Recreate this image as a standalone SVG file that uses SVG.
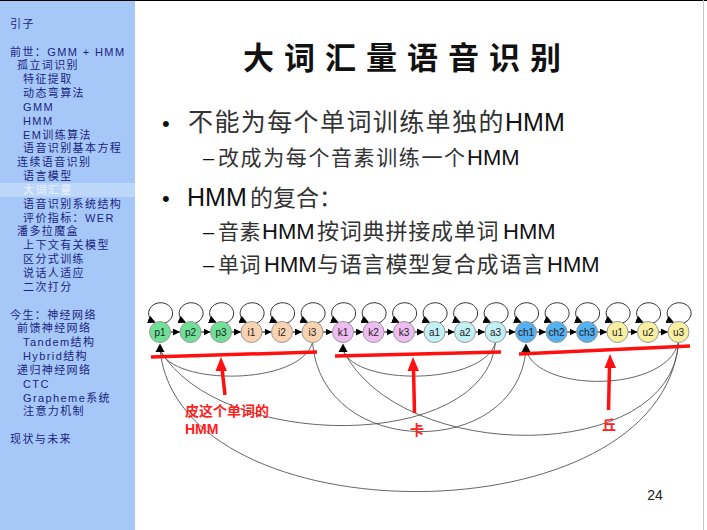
<svg xmlns="http://www.w3.org/2000/svg" width="707" height="530" viewBox="0 0 707 530">
<defs>
<marker id="ah" viewBox="0 0 10 10" refX="10" refY="5" markerWidth="7" markerHeight="7" markerUnits="userSpaceOnUse" orient="auto"><path d="M0,0 L10,5 L0,10 z" fill="#000"/></marker>
<marker id="ahl" viewBox="0 0 10 10" refX="9" refY="5" markerWidth="8" markerHeight="8" markerUnits="userSpaceOnUse" orient="auto"><path d="M0,0 L10,5 L0,10 z" fill="#000"/></marker>
<style>
.nav{font-family:"Liberation Sans","Noto Sans CJK SC",sans-serif;font-size:11px;letter-spacing:1.4px;fill:#1b2480}
.cj{font-family:"Noto Sans CJK SC",sans-serif;fill:#333}
.lat{font-family:"Liberation Sans",Arial,sans-serif;fill:#111}
.nd{stroke:#999;stroke-width:1}
.lbl{font-family:"Liberation Sans",Arial,sans-serif;font-size:10px;fill:#222;text-anchor:middle}
.lp{fill:none;stroke:#333;stroke-width:1;marker-end:url(#ahl)}
.tr{stroke:#000;stroke-width:1;marker-end:url(#ah)}
.arc{fill:none;stroke:#555;stroke-width:0.9}
.red{stroke:#ff1010;stroke-width:3.5;fill:none}
.rt{font-family:"Liberation Sans","Noto Sans CJK SC",sans-serif;font-size:14px;font-weight:bold;fill:#ff2020}
</style>
</defs>
<rect x="0" y="0" width="707" height="530" fill="#fff"/>
<rect x="0" y="0" width="135" height="530" fill="#a5c8f8"/>
<rect x="0" y="0" width="707" height="1" fill="#000"/>
<line x1="703.5" y1="0" x2="703.5" y2="530" stroke="#c8c8c8" stroke-width="1"/>
<g id="sidebar">
<rect x="0" y="183" width="135" height="14" fill="#bdd7fa"/>
<text class="nav" x="10" y="28">引子</text>
<text class="nav" x="10" y="56">前世：GMM + HMM</text>
<text class="nav" x="17" y="69">孤立词识别</text>
<text class="nav" x="23" y="83">特征提取</text>
<text class="nav" x="23" y="97">动态弯算法</text>
<text class="nav" x="23" y="111">GMM</text>
<text class="nav" x="23" y="125">HMM</text>
<text class="nav" x="23" y="139">EM训练算法</text>
<text class="nav" x="23" y="152">语音识别基本方程</text>
<text class="nav" x="17" y="166">连续语音识别</text>
<text class="nav" x="23" y="180">语言模型</text>
<text class="nav" x="23" y="194" style="fill:#eef3fb">大词汇量</text>
<text class="nav" x="23" y="208">语音识别系统结构</text>
<text class="nav" x="23" y="222">评价指标：WER</text>
<text class="nav" x="17" y="235">潘多拉魔盒</text>
<text class="nav" x="23" y="249">上下文有关模型</text>
<text class="nav" x="23" y="263">区分式训练</text>
<text class="nav" x="23" y="277">说话人适应</text>
<text class="nav" x="23" y="291">二次打分</text>
<text class="nav" x="10" y="319">今生：神经网络</text>
<text class="nav" x="17" y="332">前馈神经网络</text>
<text class="nav" x="23" y="346">Tandem结构</text>
<text class="nav" x="23" y="360">Hybrid结构</text>
<text class="nav" x="17" y="374">递归神经网络</text>
<text class="nav" x="23" y="388">CTC</text>
<text class="nav" x="23" y="402">Grapheme系统</text>
<text class="nav" x="23" y="415">注意力机制</text>
<text class="nav" x="10" y="443">现状与未来</text>
</g>
<g id="title">
<text x="243" y="69" font-family="Noto Sans CJK SC, sans-serif" font-size="31" font-weight="700" letter-spacing="10" fill="#111">大词汇量语音识别</text>
</g>
<g id="bullets">
<text class="lat" x="162" y="131" font-size="22">•</text>
<text class="cj" x="188" y="131" font-size="25" letter-spacing="1.4">不能为每个单词训练单独的</text>
<text class="lat" x="505" y="131" font-size="25">HMM</text>
<text class="lat" x="203" y="165" font-size="20" fill="#333">–</text>
<text class="cj" x="218" y="165" font-size="21" letter-spacing="1.6">改成为每个音素训练一个</text>
<text class="lat" x="467" y="165" font-size="22">HMM</text>
<text class="lat" x="162" y="206" font-size="22">•</text>
<text class="lat" x="187" y="206" font-size="25">HMM</text>
<text class="cj" x="250" y="206" font-size="23">的复合：</text>
<text class="lat" x="203" y="239" font-size="20" fill="#333">–</text>
<text class="cj" x="218" y="239" font-size="21" letter-spacing="0.5">音素</text>
<text class="lat" x="262" y="239" font-size="22">HMM</text>
<text class="cj" x="317" y="239" font-size="22" letter-spacing="0.8">按词典拼接成单词</text>
<text class="lat" x="503" y="239" font-size="22">HMM</text>
<text class="lat" x="203" y="272" font-size="20" fill="#333">–</text>
<text class="cj" x="218" y="272" font-size="21" letter-spacing="0.5">单词</text>
<text class="lat" x="264" y="272" font-size="22">HMM</text>
<text class="cj" x="317" y="272" font-size="22" letter-spacing="0.8">与语言模型复合成语言</text>
<text class="lat" x="547" y="272" font-size="22">HMM</text>
</g>
<g id="connectors">
<path class="lp" d="M165,323 A12,10.5 0 1 0 155,322.5"/>
<path class="lp" d="M195.5,323 A12,10.5 0 1 0 185.5,322.5"/>
<path class="lp" d="M226,323 A12,10.5 0 1 0 216,322.5"/>
<path class="lp" d="M256.5,323 A12,10.5 0 1 0 246.5,322.5"/>
<path class="lp" d="M287,323 A12,10.5 0 1 0 277,322.5"/>
<path class="lp" d="M317.5,323 A12,10.5 0 1 0 307.5,322.5"/>
<path class="lp" d="M348,323 A12,10.5 0 1 0 338,322.5"/>
<path class="lp" d="M378.5,323 A12,10.5 0 1 0 368.5,322.5"/>
<path class="lp" d="M409,323 A12,10.5 0 1 0 399,322.5"/>
<path class="lp" d="M439.5,323 A12,10.5 0 1 0 429.5,322.5"/>
<path class="lp" d="M470,323 A12,10.5 0 1 0 460,322.5"/>
<path class="lp" d="M500.5,323 A12,10.5 0 1 0 490.5,322.5"/>
<path class="lp" d="M531,323 A12,10.5 0 1 0 521,322.5"/>
<path class="lp" d="M561.5,323 A12,10.5 0 1 0 551.5,322.5"/>
<path class="lp" d="M592,323 A12,10.5 0 1 0 582,322.5"/>
<path class="lp" d="M622.5,323 A12,10.5 0 1 0 612.5,322.5"/>
<path class="lp" d="M653,323 A12,10.5 0 1 0 643,322.5"/>
<path class="lp" d="M683.5,323 A12,10.5 0 1 0 673.5,322.5"/>
<line class="tr" x1="170.5" y1="332" x2="180" y2="332"/>
<line class="tr" x1="201" y1="332" x2="210.5" y2="332"/>
<line class="tr" x1="231.5" y1="332" x2="241" y2="332"/>
<line class="tr" x1="262" y1="332" x2="271.5" y2="332"/>
<line class="tr" x1="292.5" y1="332" x2="302" y2="332"/>
<line class="tr" x1="323" y1="332" x2="332.5" y2="332"/>
<line class="tr" x1="353.5" y1="332" x2="363" y2="332"/>
<line class="tr" x1="384" y1="332" x2="393.5" y2="332"/>
<line class="tr" x1="414.5" y1="332" x2="424" y2="332"/>
<line class="tr" x1="445" y1="332" x2="454.5" y2="332"/>
<line class="tr" x1="475.5" y1="332" x2="485" y2="332"/>
<line class="tr" x1="506" y1="332" x2="515.5" y2="332"/>
<line class="tr" x1="536.5" y1="332" x2="546" y2="332"/>
<line class="tr" x1="567" y1="332" x2="576.5" y2="332"/>
<line class="tr" x1="597.5" y1="332" x2="607" y2="332"/>
<line class="tr" x1="628" y1="332" x2="637.5" y2="332"/>
<line class="tr" x1="658.5" y1="332" x2="668" y2="332"/>
<path class="arc" d="M312.5,342.5 C300,386 172,386 160,350"/>
<path class="arc" d="M495.5,342.5 C483,386 355,386 343,350"/>
<path class="arc" d="M678.5,342.5 C666,393 538,393 526,350"/>
<path class="arc" d="M495.5,342.5 C485,452 220,452 160,350"/>
<path class="arc" d="M312.5,342.5 C322,460 516,460 526,350"/>
<path class="arc" d="M678.5,342.5 C672,465 400,465 343,350"/>
<path class="arc" d="M678.5,342.5 C660,540 180,540 160,350"/>
<polygon points="160,343.5 155.5,352 164.5,352" fill="#000"/>
<polygon points="343,343.5 338.5,352 347.5,352" fill="#000"/>
<polygon points="526,343.5 521.5,352 530.5,352" fill="#000"/>
</g>
<g id="node-p1"><circle class="nd" cx="160" cy="332" r="10.5" fill="#6fe096"/><text class="lbl" x="160" y="335.5">p1</text></g>
<g id="node-p2"><circle class="nd" cx="190.5" cy="332" r="10.5" fill="#6fe096"/><text class="lbl" x="190.5" y="335.5">p2</text></g>
<g id="node-p3"><circle class="nd" cx="221" cy="332" r="10.5" fill="#6fe096"/><text class="lbl" x="221" y="335.5">p3</text></g>
<g id="node-i1"><circle class="nd" cx="251.5" cy="332" r="10.5" fill="#f9d3b0"/><text class="lbl" x="251.5" y="335.5">i1</text></g>
<g id="node-i2"><circle class="nd" cx="282" cy="332" r="10.5" fill="#f9d3b0"/><text class="lbl" x="282" y="335.5">i2</text></g>
<g id="node-i3"><circle class="nd" cx="312.5" cy="332" r="10.5" fill="#f9d3b0"/><text class="lbl" x="312.5" y="335.5">i3</text></g>
<g id="node-k1"><circle class="nd" cx="343" cy="332" r="10.5" fill="#eebcf0"/><text class="lbl" x="343" y="335.5">k1</text></g>
<g id="node-k2"><circle class="nd" cx="373.5" cy="332" r="10.5" fill="#eebcf0"/><text class="lbl" x="373.5" y="335.5">k2</text></g>
<g id="node-k3"><circle class="nd" cx="404" cy="332" r="10.5" fill="#eebcf0"/><text class="lbl" x="404" y="335.5">k3</text></g>
<g id="node-a1"><circle class="nd" cx="434.5" cy="332" r="10.5" fill="#c2f0f4"/><text class="lbl" x="434.5" y="335.5">a1</text></g>
<g id="node-a2"><circle class="nd" cx="465" cy="332" r="10.5" fill="#c2f0f4"/><text class="lbl" x="465" y="335.5">a2</text></g>
<g id="node-a3"><circle class="nd" cx="495.5" cy="332" r="10.5" fill="#c2f0f4"/><text class="lbl" x="495.5" y="335.5">a3</text></g>
<g id="node-ch1"><circle class="nd" cx="526" cy="332" r="10.5" fill="#55b0f0"/><text class="lbl" x="526" y="335.5">ch1</text></g>
<g id="node-ch2"><circle class="nd" cx="556.5" cy="332" r="10.5" fill="#55b0f0"/><text class="lbl" x="556.5" y="335.5">ch2</text></g>
<g id="node-ch3"><circle class="nd" cx="587" cy="332" r="10.5" fill="#55b0f0"/><text class="lbl" x="587" y="335.5">ch3</text></g>
<g id="node-u1"><circle class="nd" cx="617.5" cy="332" r="10.5" fill="#f8f0a0"/><text class="lbl" x="617.5" y="335.5">u1</text></g>
<g id="node-u2"><circle class="nd" cx="648" cy="332" r="10.5" fill="#f8f0a0"/><text class="lbl" x="648" y="335.5">u2</text></g>
<g id="node-u3"><circle class="nd" cx="678.5" cy="332" r="10.5" fill="#f8f0a0"/><text class="lbl" x="678.5" y="335.5">u3</text></g>
<g id="annotations">
<line class="red" x1="151" y1="357" x2="317" y2="352"/>
<line class="red" x1="335" y1="356" x2="501" y2="352"/>
<line class="red" x1="519" y1="354" x2="690" y2="346"/>
<line class="red" x1="225" y1="395" x2="222" y2="368"/>
<polygon points="221,357 215.5,371 227,371" fill="#ff1010"/>
<line class="red" x1="414.5" y1="413" x2="413.5" y2="368"/>
<polygon points="413,357 407.5,371 419,371" fill="#ff1010"/>
<line class="red" x1="608.5" y1="410" x2="609.5" y2="366"/>
<polygon points="610,354 604.5,368 616,368" fill="#ff1010"/>
<text class="rt" x="185" y="416">皮这个单词的</text>
<text class="rt" x="185" y="434">HMM</text>
<text class="rt" x="410" y="435">卡</text>
<text class="rt" x="602" y="430">丘</text>
</g>
<text x="655" y="500" font-family="Liberation Sans, Arial, sans-serif" font-size="14" fill="#222" text-anchor="middle">24</text>
</svg>
